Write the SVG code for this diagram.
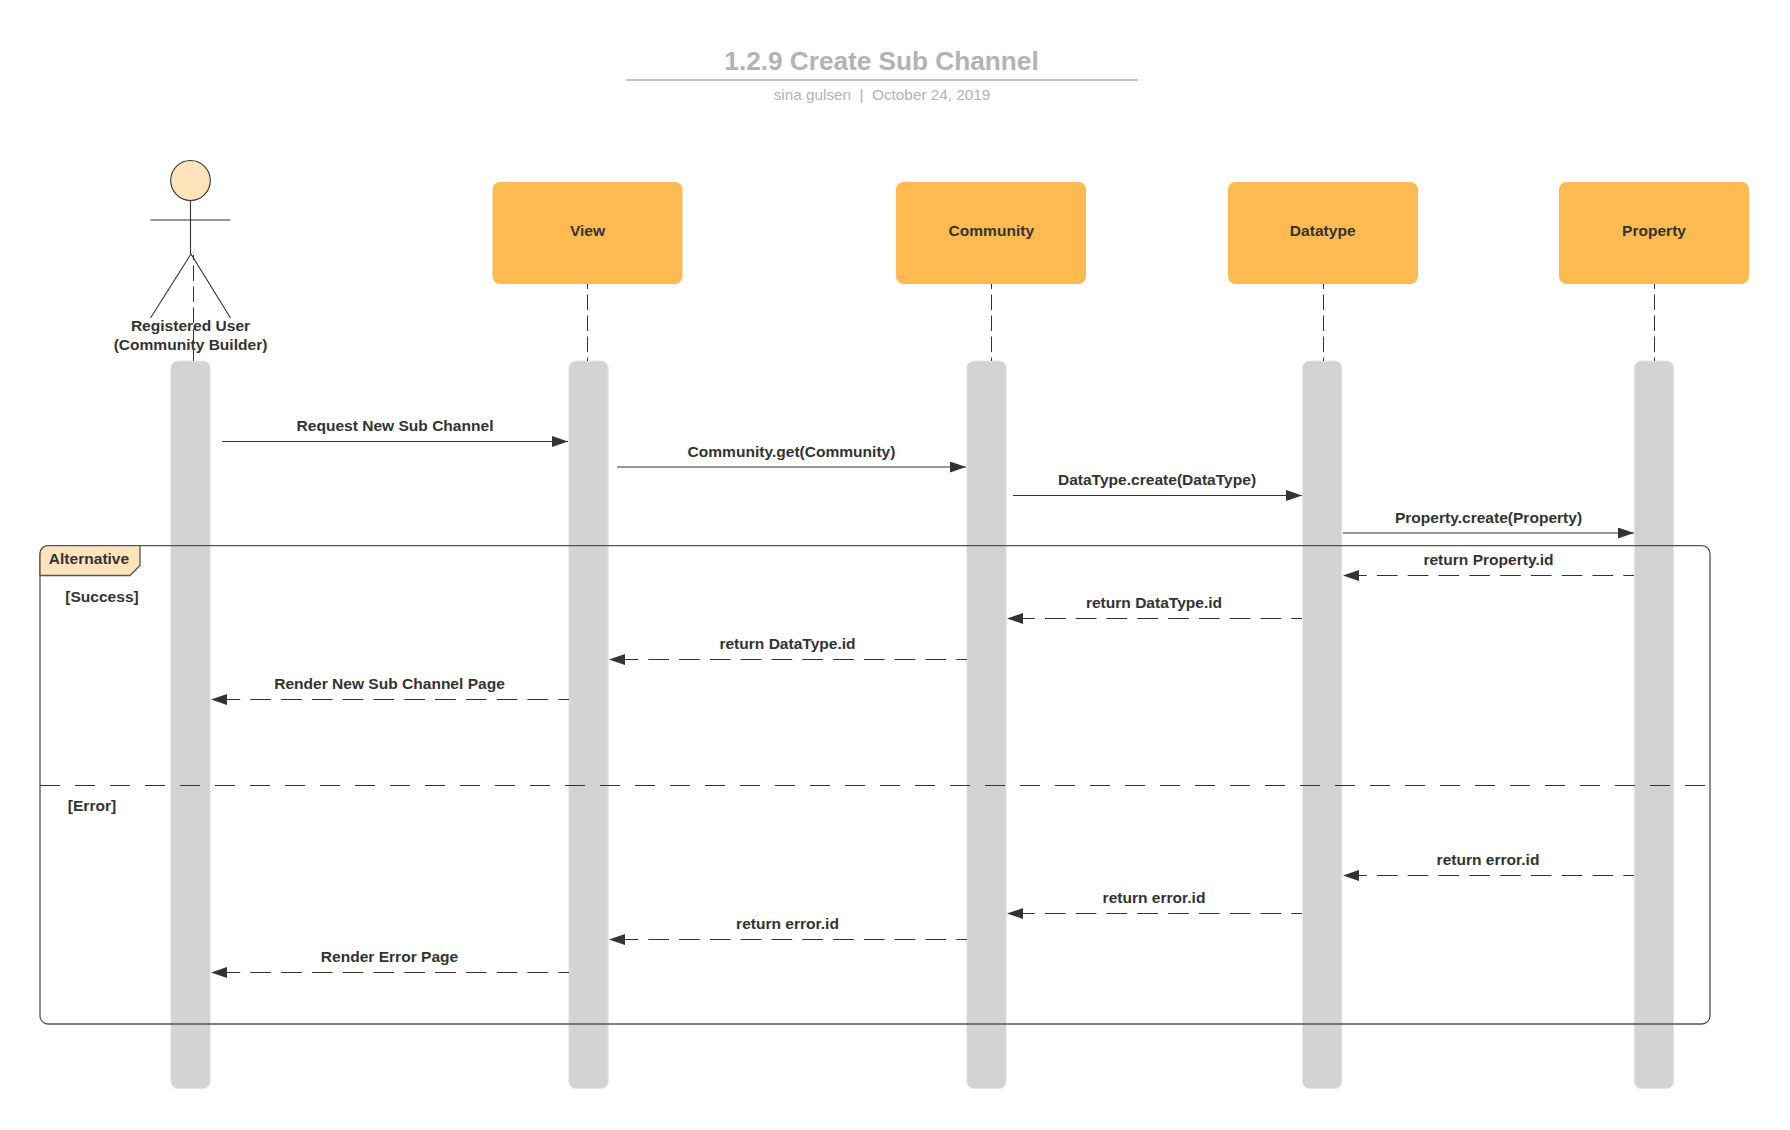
<svg xmlns="http://www.w3.org/2000/svg" width="1790" height="1130" viewBox="0 0 1790 1130">
<style>
text{font-family:"Liberation Sans",Arial,sans-serif;font-weight:700;font-size:15.55px;fill:#333;text-anchor:middle}
.box{fill:#ffbb52}
.act{fill:#d1d3d4;stroke:#e6e7e8;stroke-width:1}
.life{fill:none;stroke:#333;stroke-width:1;stroke-dasharray:15.500 5.500;stroke-dashoffset:10.500}
.msg{fill:none;stroke:#333;stroke-width:1.2;marker-end:url(#arr)}
.ret{fill:none;stroke:#333;stroke-width:1.2;stroke-dasharray:20.700 10.100;stroke-dashoffset:10;marker-end:url(#arr)}
.ln{fill:none;stroke:#333;stroke-width:1.1}
.frm{fill:none;stroke:#555;stroke-width:1.3}
</style>
<defs>
<marker id="arr" markerUnits="userSpaceOnUse" markerWidth="17" markerHeight="12" refX="16" refY="5.500" orient="auto"><path d="M0 0L16 5.500L0 11Z" fill="#333"/></marker>
</defs>
<rect width="1790" height="1130" fill="#fff"/>
<g id="title">
<text x="881.500" y="70" style="font-size:26.200px;fill:#b3b3b3">1.2.9 Create Sub Channel</text>
<path d="M626 80H1138" stroke="#b3b3b3" stroke-width="1.600" fill="none"/>
<text x="882" y="100" style="font-size:15.300px;font-weight:400;fill:#b3b3b3" xml:space="preserve">sina gulsen  |  October 24, 2019</text>
</g>
<g id="activations">
<rect id="act-user" class="act" x="170.800" y="361" width="39.400" height="727.500" rx="7"/>
<rect id="act-view" class="act" x="568.800" y="361" width="39.400" height="727.500" rx="7"/>
<rect id="act-community" class="act" x="966.800" y="361" width="39.400" height="727.500" rx="7"/>
<rect id="act-datatype" class="act" x="1302.500" y="361" width="39.400" height="727.500" rx="7"/>
<rect id="act-property" class="act" x="1634.300" y="361" width="39.400" height="727.500" rx="7"/>
</g>
<g id="actor-user">
<ellipse cx="190.500" cy="180.500" rx="19.800" ry="20" fill="#ffe3bb" stroke="#333" stroke-width="1.100"/>
<path class="ln" d="M190.500 200.500V254M150.500 220H230.500M191 254L150.500 318M191 254L230.500 318"/>
<text x="190.500" y="331">Registered User</text>
<text x="190.500" y="350">(Community Builder)</text>
</g>
<g id="node-view"><rect class="box" x="492.500" y="182" width="190" height="102" rx="7.500"/><text x="587.500" y="236">View</text></g>
<g id="node-community"><rect class="box" x="896" y="182" width="190" height="102" rx="7.500"/><text x="991.300" y="236">Community</text></g>
<g id="node-datatype"><rect class="box" x="1228" y="182" width="190" height="102" rx="7.500"/><text x="1322.700" y="236">Datatype</text></g>
<g id="node-property"><rect class="box" x="1559" y="182" width="190" height="102" rx="7.500"/><text x="1654" y="236">Property</text></g>
<g id="connectors">
<path class="life" d="M193.500 255V361"/>
<path class="life" d="M587.500 284V361"/>
<path class="life" d="M991.500 284V361"/>
<path class="life" d="M1323.500 284V361"/>
<path class="life" d="M1654.500 284V361"/>
<path class="msg" d="M222 441.500H568"/>
<path class="msg" d="M617 467H966"/>
<path class="msg" d="M1013 495.500H1302"/>
<path class="msg" d="M1343 533H1634"/>
<path class="ret" d="M1634 575.500H1343"/>
<path class="ret" d="M1302 618.500H1007"/>
<path class="ret" d="M967 659.500H609"/>
<path class="ret" d="M569 699.500H211"/>
<path class="ret" d="M1634 875.500H1343"/>
<path class="ret" d="M1302 913.500H1007"/>
<path class="ret" d="M967 939.500H609"/>
<path class="ret" d="M569 972.500H211"/>
</g>
<g id="labels">
<text x="395" y="431">Request New Sub Channel</text>
<text x="791.500" y="456.500">Community.get(Community)</text>
<text x="1157" y="485">DataType.create(DataType)</text>
<text x="1488.500" y="523">Property.create(Property)</text>
<text x="1488.500" y="565">return Property.id</text>
<text x="1154" y="608">return DataType.id</text>
<text x="787.500" y="649">return DataType.id</text>
<text x="389.500" y="689">Render New Sub Channel Page</text>
<text x="1488" y="865">return error.id</text>
<text x="1154" y="903">return error.id</text>
<text x="787.500" y="929">return error.id</text>
<text x="389.500" y="962">Render Error Page</text>
</g>
<g id="frame-alternative">
<rect class="frm" x="40" y="545.700" width="1670" height="478.300" rx="8"/>
<path d="M40 575.500V553.700A8 8 0 0 1 48 545.700H140V565.500L130 575.500Z" fill="#ffe3bb" stroke="#555" stroke-width="1.300"/>
<text x="89" y="564">Alternative</text>
<text x="102" y="602">[Success]</text>
<path d="M40 785.500H1707" fill="none" stroke="#333" stroke-width="1.200" stroke-dasharray="20 15"/>
<text x="92" y="811">[Error]</text>
</g>
</svg>
